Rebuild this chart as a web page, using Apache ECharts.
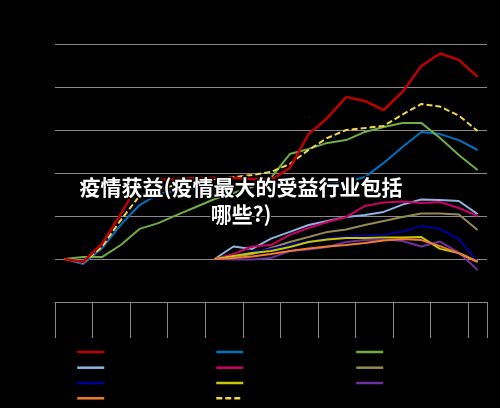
<!DOCTYPE html>
<html>
<head>
<meta charset="utf-8">
<script src="https://cdn.jsdelivr.net/npm/echarts@6/dist/echarts.min.js"></script>
<style>html,body{margin:0;padding:0;background:#000;}#c{width:500px;height:408px;}</style>
</head>
<body>
<div id="c"></div>
<script>
const titleText = '疫情获益(疫情最大的受益行业包括\n哪些?)';
const categories = ['1','2','3','4','5','6','7','8','9','10','11','12','13','14','15','16','17','18','19','20','21','22','23'];
const seriesNames = ['系列1','系列2','系列3','系列4','系列5','系列6','系列7','系列8','系列9','系列10','系列11'];
const seriesColors = ['#c00000','#0070c0','#70ad47','#8db4e2','#cc0066','#948a54','#000099','#c8c800','#7030a0','#ed7d31','#f2d64b'];

const redVals    = [0, -1.4, 7.0, 20.9, 35.8, 36.7, 37.2, 37.7, 37.7, 37.7, 37.2, 36.7, 42.3, 58.1, 65.6, 75.3, 73.5, 69.3, 77.7, 89.8, 95.6, 92.6, 84.7];
const blueVals   = [0, -2.3, 5.0, 15.9, 25.1, 30.2, 31.6, 33.0, 34.0, 34.4, 34.9, 34.9, 34.9, 34.9, 35.3, 35.8, 38.1, 44.7, 52.1, 59.1, 58.1, 55.3, 50.7];
const greenVals  = [0, 0.9, 0.9, 6.5, 14.0, 16.7, 20.5, 24.2, 27.9, 30.7, 33.5, 37.7, 48.8, 51.2, 54.0, 55.3, 59.1, 61.4, 63.3, 63.3, 56.3, 48.4, 41.4];
const lightBlueVals = [null, null, null, null, null, null, null, null, 0, 5.8, 4.7, 9.5, 12.6, 15.8, 17.7, 19.5, 20.5, 21.9, 25.3, 27.7, 27.4, 27.0, 20.9];
const magentaVals   = [null, null, null, null, null, null, null, null, 0, 2.3, 5.8, 6.5, 11.2, 14.4, 17.2, 19.5, 24.7, 26.3, 26.7, 26.0, 26.5, 23.7, 20.0];
const tanVals       = [null, null, null, null, null, null, null, null, 0, 0.9, 2.3, 5.1, 7.9, 10.2, 12.6, 13.7, 15.8, 17.7, 19.5, 21.2, 21.2, 20.7, 13.5];
const darkBlueVals  = [null, null, null, null, null, null, null, null, 0, 1.4, 3.3, 4.7, 6.5, 8.4, 9.5, 10.5, 10.9, 11.2, 12.8, 15.3, 14.0, 9.3, -1.4];
const yellowVals    = [null, null, null, null, null, null, null, null, 0, 1.4, 2.8, 3.7, 5.6, 7.9, 9.1, 9.8, 9.8, 10.0, 10.0, 10.2, 4.7, 2.8, -1.2];
const purpleVals    = [null, null, null, null, null, null, null, null, 0, -0.2, -0.2, 0.5, 3.7, 4.4, 5.6, 7.9, 8.8, 9.1, 8.4, 5.8, 8.1, 3.0, -5.1];
const orangeVals    = [null, null, null, null, null, null, null, null, 0, 0.5, 1.2, 2.3, 3.7, 4.9, 5.8, 6.5, 7.4, 8.6, 9.3, 8.8, 6.0, 2.6, -1.4];
const yellowDashVals = [0, -1.6, 5.6, 18.1, 29.3, 32.6, 34.4, 36.3, 37.2, 38.1, 39.1, 40.5, 44.2, 50.7, 56.3, 60.0, 60.9, 61.9, 67.2, 72.1, 70.9, 66.7, 59.5];

const allVals = [redVals, blueVals, greenVals, lightBlueVals, magentaVals, tanVals, darkBlueVals, yellowVals, purpleVals, orangeVals, yellowDashVals];

const chart = echarts.init(document.getElementById('c'), null, {renderer: 'canvas'});

const series = allVals.map((vals, i) => ({
  name: seriesNames[i],
  type: 'line',
  data: vals,
  symbol: 'none',
  connectNulls: false,
  z: i === 0 ? 4 : 3,
  lineStyle: {
    color: seriesColors[i],
    width: i === 0 ? 2.5 : 2,
    type: i === 10 ? [6, 3] : 'solid'
  },
  itemStyle: {color: seriesColors[i]}
}));

const colLeft = [76, 215, 355];
const rowCenter = [352, 367.7, 383, 398.3];
const legends = seriesNames.map((n, i) => ({
  data: [n],
  left: colLeft[i % 3],
  top: rowCenter[Math.floor(i / 3)] - 4,
  padding: 0,
  itemWidth: 27,
  itemHeight: 8,
  itemStyle: {opacity: 0, borderWidth: 0},
  lineStyle: {width: 2.5},
  textStyle: {color: '#000', fontSize: 8, lineHeight: 8},
  selectedMode: false
}));

chart.setOption({
  backgroundColor: '#000',
  animation: false,
  title: {
    text: titleText,
    left: 241,
    top: 174,
    padding: 0,
    textAlign: 'center',
    textStyle: {
      color: '#fff',
      fontSize: 21,
      fontWeight: 'bold',
      fontFamily: 'Noto Sans CJK SC',
      lineHeight: 27,
      textBorderColor: '#000',
      textBorderWidth: 3
    }
  },
  legend: legends,
  grid: {left: 55, right: 13, top: 44, bottom: 106, containLabel: false},
  xAxis: {
    type: 'category',
    data: categories,
    boundaryGap: true,
    axisLine: {show: true, onZero: false, lineStyle: {color: '#8a8a8a', width: 1}},
    axisTick: {show: true, interval: 1, length: 36, lineStyle: {color: '#8a8a8a', width: 1}},
    axisLabel: {show: false},
    splitLine: {show: false}
  },
  yAxis: {
    type: 'value',
    min: -20,
    max: 100,
    interval: 20,
    axisLine: {show: false},
    axisTick: {show: false},
    axisLabel: {show: false},
    splitLine: {show: true, lineStyle: {color: '#8a8a8a', width: 1}}
  },
  series: series
});
</script>
</body>
</html>
